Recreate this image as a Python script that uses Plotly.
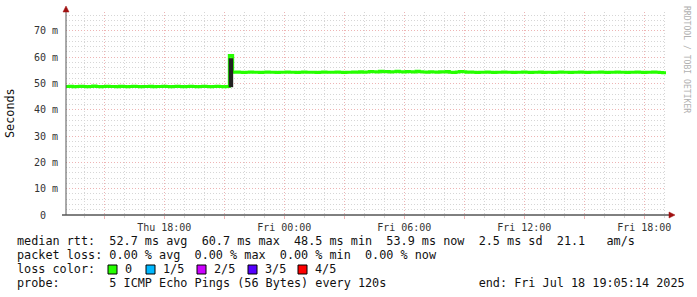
import plotly.graph_objects as go
import pandas as pd

# ---------------- data ----------------
t_start = "2025-07-17 13:05:14"
t_end = "2025-07-18 19:05:14"
sample_times = pd.date_range(t_start, t_end, freq="10min")  # 181 samples

median_before = [
    48.9, 49.0, 48.8, 48.9, 49.0, 48.9, 48.8, 48.9, 49.1, 48.9,
    48.8, 48.9, 49.0, 48.9, 48.9, 48.8, 49.0, 48.9, 48.8, 48.9,
    49.0, 48.9, 48.8, 48.9, 48.9, 49.0, 48.8, 48.9, 48.9, 49.0,
    48.9, 48.8, 48.9, 49.0, 48.9, 48.8, 48.9, 49.0, 48.9, 48.8,
    48.9, 49.0, 48.9, 48.8, 48.9, 49.0, 48.9, 48.8, 48.9,
]
median_spike = [60.7]
median_after = [
    54.3, 54.4, 54.3, 54.2, 54.3, 54.4, 54.3, 54.3, 54.2, 54.3,
    54.4, 54.3, 54.3, 54.2, 54.3, 54.3, 54.4, 54.3, 54.3, 54.2,
    54.3, 54.4, 54.3, 54.3, 54.3, 54.2, 54.3, 54.4, 54.3, 54.3,
    54.3, 54.4, 54.3, 54.2, 54.3, 54.3, 54.4, 54.3, 54.5, 54.3,
    54.4, 54.6, 54.5, 54.4, 54.7, 54.5, 54.6, 54.4, 54.5, 54.7,
    54.5, 54.4, 54.6, 54.5, 54.4, 54.7, 54.5, 54.4, 54.3, 54.5,
    54.4, 54.3, 54.5, 54.4, 54.6, 54.3, 54.2, 54.4, 54.6, 54.5,
    54.3, 54.4, 54.3, 54.2, 54.3, 54.3, 54.4, 54.3, 54.2, 54.3,
    54.3, 54.4, 54.3, 54.3, 54.2, 54.3, 54.3, 54.4, 54.3, 54.2,
    54.3, 54.3, 54.4, 54.2, 54.3, 54.3, 54.2, 54.3, 54.4, 54.3,
    54.3, 54.2, 54.3, 54.3, 54.4, 54.3, 54.2, 54.3, 54.3, 54.3,
    54.4, 54.3, 54.2, 54.3, 54.3, 54.4, 54.3, 54.3, 54.2, 54.3,
    54.3, 54.4, 54.3, 54.2, 54.3, 54.3, 54.4, 54.3, 54.2, 54.1,
    54.0,
]
median_ms = median_before + median_spike + median_after

smoke_times = ["2025-07-17 21:20:00"]
smoke_lo = [48.6]
smoke_hi = [59.6]

y_tickvals = [0, 10, 20, 30, 40, 50, 60, 70]
y_ticktext = ["0\u00a0\u00a0", "10 m", "20 m", "30 m", "40 m", "50 m", "60 m", "70 m"]

x_tickvals = ["2025-07-17 15:00", "2025-07-17 18:00", "2025-07-17 21:00",
              "2025-07-18 00:00", "2025-07-18 03:00", "2025-07-18 06:00",
              "2025-07-18 09:00", "2025-07-18 12:00", "2025-07-18 15:00",
              "2025-07-18 18:00"]
x_ticktext = ["", "Thu 18:00", "", "Fri 00:00", "", "Fri 06:00", "",
              "Fri 12:00", "", "Fri 18:00"]

legend_rtt = "median rtt:  52.7 ms avg  60.7 ms max  48.5 ms min  53.9 ms now  2.5 ms sd  21.1   am/s"
legend_loss = "packet loss: 0.00 % avg  0.00 % max  0.00 % min  0.00 % now"
legend_color_title = "loss color:"
loss_labels = ["0", "1/5", "2/5", "3/5", "4/5"]
loss_colors = ["#26ff00", "#00b8ff", "#cc00ff", "#5500ff", "#ff0000"]
legend_probe = "probe:       5 ICMP Echo Pings (56 Bytes) every 120s             end: Fri Jul 18 19:05:14 2025"
watermark = "RRDTOOL / TOBI OETIKER"
y_title = "Seconds"

# ---------------- layout helpers ----------------
W, H = 697, 297
L, R, T, B = 66, 666, 12, 215  # plot area in pixels
def fx(px):
    return (px - L) / (R - L)
def fy(py):
    return (B - py) / (B - T)

MONO = "DejaVu Sans Mono"
def nb(s):
    return s.replace(" ", "\u00a0")

fig = go.Figure()
fig.add_trace(go.Scatter(
    x=sample_times, y=median_ms, mode="lines",
    line=dict(color="#26ff00", width=3, shape="hv"),
    hoverinfo="skip", showlegend=False,
))
for t, lo, hi in zip(smoke_times, smoke_lo, smoke_hi):
    fig.add_trace(go.Scatter(
        x=[t, t], y=[lo, hi], mode="lines",
        line=dict(color="#222222", width=4.5),
        hoverinfo="skip", showlegend=False,
    ))

grid_dash = "1px,2px"
MAJ = "#eeb4b4"
MIN = "#d6d6d6"
fig.update_layout(
    width=W, height=H,
    margin=dict(l=L, r=W - R, t=T, b=H - B),
    paper_bgcolor="white", plot_bgcolor="white",
    font=dict(family=MONO, size=10, color="#333333"),
    xaxis=dict(
        type="date", range=[t_start, t_end],
        tickvals=x_tickvals, ticktext=x_ticktext,
        showgrid=True, gridcolor=MAJ, griddash=grid_dash, gridwidth=1,
        ticks="outside", ticklen=3, tickcolor=MAJ,
        showline=False, zeroline=False,
        tickfont=dict(family=MONO, size=10, color="#333333"),
        minor=dict(dtick=3600000, tick0="2025-07-17 00:00", showgrid=True,
                   gridcolor=MIN, griddash=grid_dash, gridwidth=1,
                   ticks="outside", ticklen=2, tickcolor=MIN),
    ),
    yaxis=dict(
        range=[0, 77.2],
        tickvals=y_tickvals, ticktext=y_ticktext,
        showgrid=True, gridcolor=MAJ, griddash=grid_dash, gridwidth=1,
        ticks="outside", ticklen=5, tickcolor="rgba(0,0,0,0)",
        showline=False, zeroline=False,
        tickfont=dict(family=MONO, size=10, color="#333333"),
        minor=dict(dtick=2, tick0=0, showgrid=True, gridcolor=MIN,
                   griddash=grid_dash, gridwidth=1),
    ),
)

shapes = []
# axes lines
shapes.append(dict(type="line", xref="paper", yref="paper",
                   x0=fx(62), x1=fx(670), y0=0, y1=0,
                   line=dict(color="#000000", width=1)))
shapes.append(dict(type="line", xref="paper", yref="paper",
                   x0=0, x1=0, y0=0, y1=fy(10),
                   line=dict(color="#555555", width=1)))
# arrows
shapes.append(dict(type="path", xref="paper", yref="paper",
                   path=f"M {fx(66)} {fy(6)} L {fx(63)} {fy(12)} L {fx(69)} {fy(12)} Z",
                   fillcolor="#a01010", line=dict(color="#a01010", width=0.5)))
shapes.append(dict(type="path", xref="paper", yref="paper",
                   path=f"M {fx(675)} {fy(215)} L {fx(669)} {fy(212)} L {fx(669)} {fy(218)} Z",
                   fillcolor="#a01010", line=dict(color="#a01010", width=0.5)))
# loss colour boxes
box_x = [108, 146, 197, 248, 298]
for bx, col in zip(box_x, loss_colors):
    shapes.append(dict(type="rect", xref="paper", yref="paper",
                       x0=fx(bx), x1=fx(bx + 9), y0=fy(274), y1=fy(265),
                       fillcolor=col, line=dict(color="#000000", width=1)))
fig.update_layout(shapes=shapes)

LEG = 11.8
ann = []
def text_at(px, py, s, size=LEG, color="#111111", angle=0, xanchor="left"):
    ann.append(dict(xref="paper", yref="paper", x=fx(px), y=fy(py),
                    text=nb(s), showarrow=False, xanchor=xanchor,
                    yanchor="middle", textangle=angle, borderpad=0,
                    font=dict(family=MONO, size=size, color=color)))

text_at(16, 241, legend_rtt)
text_at(16, 255, legend_loss)
text_at(16, 269, legend_color_title)
for bx, lab in zip(box_x, loss_labels):
    text_at(bx + 16, 269, lab)
text_at(16, 283, legend_probe)
text_at(10, 113, y_title, angle=-90, xanchor="center")
text_at(687, 59, watermark, size=8.1, color="#b0b0b0", angle=90, xanchor="center")
fig.update_layout(annotations=ann)

fig.write_html("out.html")
